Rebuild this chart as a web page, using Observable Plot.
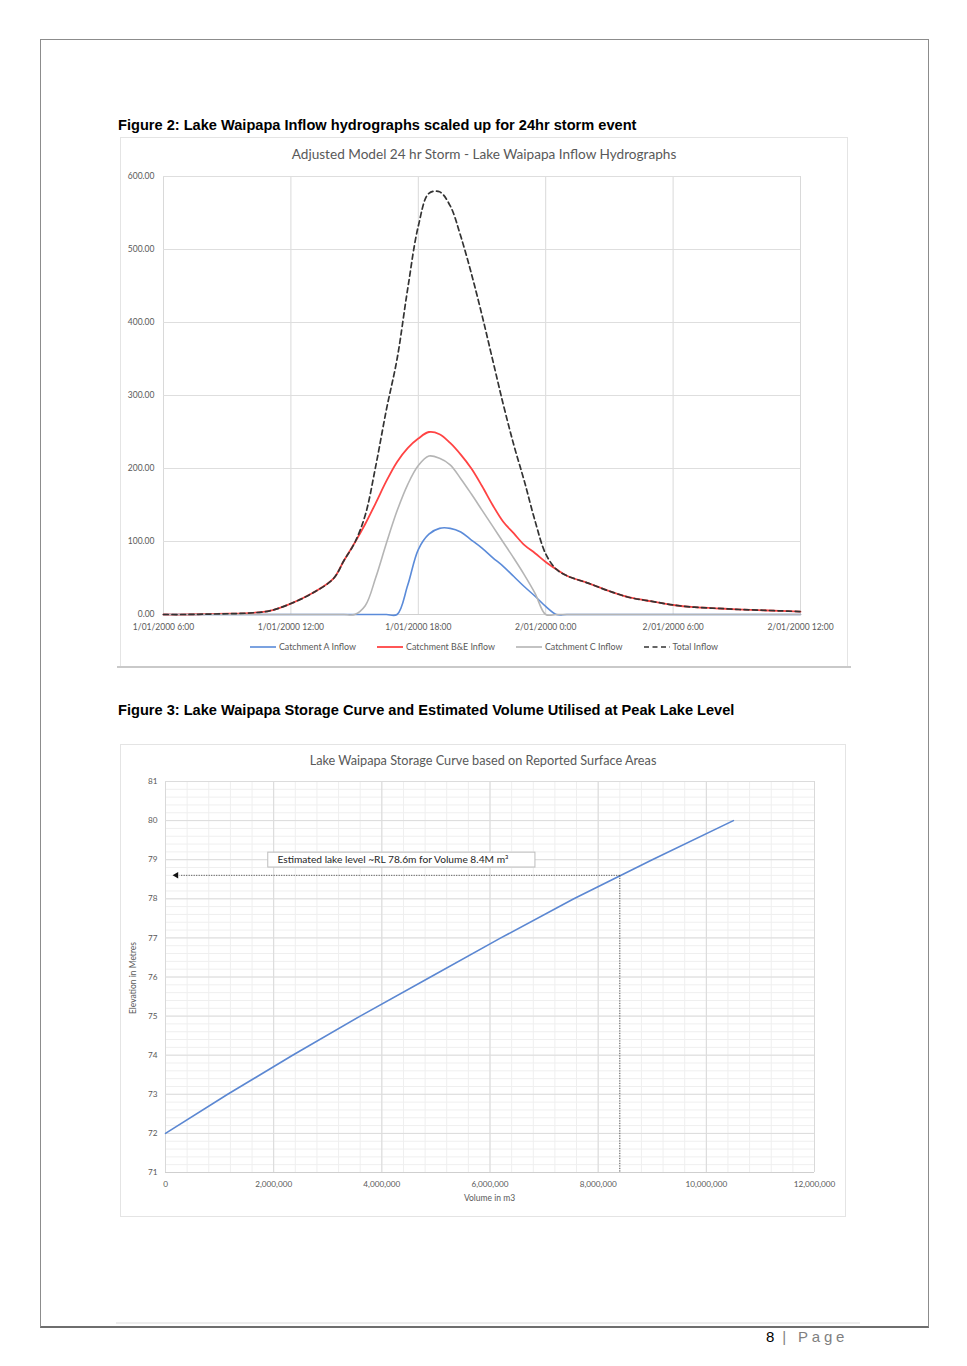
<!DOCTYPE html>
<html>
<head>
<meta charset="utf-8">
<script src="https://cdn.jsdelivr.net/npm/d3@7"></script>
<script src="https://cdn.jsdelivr.net/npm/@observablehq/plot@0.6"></script>
<style>
  html, body { margin: 0; padding: 0; background: #fff; }
  #page { position: relative; width: 967px; height: 1366px; background: #fff; overflow: hidden; }
  .abs { position: absolute; }
  .figtitle { font-family: "Liberation Sans", Arial, sans-serif; font-weight: bold; font-size: 14.6px; color: #000; white-space: nowrap; line-height: 16px; }
  .chartbox { border: 1px solid #e4e4e4; box-sizing: border-box; background: #fff; }
  .ctitle { font-family: Lato, "Open Sans", sans-serif; color: #595959; text-align: center; line-height: 16px; white-space: nowrap; }
  .legend { font-family: Lato, "Open Sans", sans-serif; font-size: 8.9px; color: #595959; display: flex; justify-content: center; align-items: center; gap: 21px; line-height: 10px; }
  .legend span.item { display: inline-flex; align-items: center; gap: 3px; }
  .axlabel { font-family: Lato, "Open Sans", sans-serif; font-size: 8.5px; color: #595959; white-space: nowrap; line-height: 10px; }
</style>
</head>
<body>
<div id="page">
  <div class="abs" style="left:40px;top:39px;width:889px;height:1289px;border:1px solid #8c8c8c;border-bottom:2px solid #6e6e6e;box-sizing:border-box;"></div>
  <div class="abs" style="left:116px;top:1322px;width:744px;height:2px;background:#ededed;"></div>
  <div class="abs" style="left:766px;top:1328px;font-family:'Liberation Sans',Arial,sans-serif;font-size:15px;line-height:18px;white-space:nowrap;"><span style="color:#000">8</span><span style="color:#7f7f7f;letter-spacing:3.8px"> | Page</span></div>

  <div class="abs figtitle" style="left:118px;top:117px;">Figure 2: Lake Waipapa Inflow hydrographs scaled up for 24hr storm event</div>
  <div class="abs chartbox" style="left:120px;top:137px;width:728px;height:530px;"></div>
  <div class="abs" style="left:117px;top:666px;width:734px;height:2px;background:#c9c9c9;"></div>
  <div class="abs ctitle" style="left:120px;top:146px;width:728px;font-size:13.6px;">Adjusted Model 24 hr Storm - Lake Waipapa Inflow Hydrographs</div>
  <div class="abs" id="chart1" style="left:120px;top:165px;"></div>
  <div class="abs legend" id="legend1" style="left:120px;top:642px;width:728px;"></div>

  <div class="abs figtitle" style="left:118px;top:702px;">Figure 3: Lake Waipapa Storage Curve and Estimated Volume Utilised at Peak Lake Level</div>
  <div class="abs chartbox" style="left:120px;top:744px;width:726px;height:473px;"></div>
  <div class="abs ctitle" style="left:120px;top:752px;width:726px;font-size:12.7px;">Lake Waipapa Storage Curve based on Reported Surface Areas</div>
  <div class="abs" id="chart2" style="left:120px;top:770px;"></div>
  <div class="abs axlabel" style="left:165px;top:1193px;width:649px;text-align:center;">Volume in m3</div>
  <div class="abs axlabel" style="left:133px;top:978px;width:0;height:0;"><div style="position:absolute;transform:translate(-50%,-50%) rotate(-90deg);white-space:nowrap;">Elevation in Metres</div></div>
</div>
<script>
// ---------- Figure 2 data (hours after 1/01/2000 6:00) ----------
const startTime = Date.UTC(2000, 0, 1, 6);
const hours = [0,1,2,3,4,5,6,7,8,8.5,9,9.5,10,10.5,11,11.5,12,12.5,13,13.5,14,14.5,15,15.5,16,16.5,17,17.5,18,18.5,19,20,21,22,23,24,25,26,27,28,29,30];
const inflowA   = [0,0,0,0,0,0,0,0,0,0,0,0,0,0,0,40,89,110,118,118,113,102,91,78,66,52,38,25,11,0,0,0,0,0,0,0,0,0,0,0,0,0];
const inflowBE  = [0,0,0.5,1,2,5,15,29,49,74,98,124,153,183,209,228,241,250,247,235,219,200,176,150,127,111,95,84,72,62,53,43,32,23,18,13,10,8.5,7,6,5,4];
const inflowC   = [0,0,0,0,0,0,0,0,0,0,0,12,51,98,142,178,204,217,214,205,186,165,143,121,99,77,54,29,0,0,0,0,0,0,0,0,0,0,0,0,0,0];
const inflowTot = [0,0,0.5,1,2,5,15,29,49,74,98,136,204,281,350,446,532,577,579,560,518,467,410,349,288,232,182,128,83,62,53,43,32,23,18,13,10,8.5,7,6,5,4];
const seriesNames = ["Catchment A Inflow", "Catchment B&E Inflow", "Catchment C Inflow", "Total Inflow"];
const yTicks1 = [0,100,200,300,400,500,600];

// ---------- Figure 3 data ----------
const volumes = [0, 1150000, 2350000, 3600000, 4900000, 6200000, 7550000, 9000000, 10500000];
const elevations = [72, 73, 74, 75, 76, 77, 78, 79, 80];
const xTicks2 = [0, 2000000, 4000000, 6000000, 8000000, 10000000, 12000000];
const yTicks2 = [71,72,73,74,75,76,77,78,79,80,81];
const peakVolume = [8400000];
const peakLevel = [78.6];
const arrowEndVolume = [200000];
const noteText = ["Estimated lake level ~RL 78.6m for Volume 8.4M m\u00B3"];
const noteBox = [{x1: 1900000, x2: 6840000, y1: 78.8, y2: 79.18}];

// ---------- Figure 2 ----------
const toDate = h => new Date(startTime + h * 3600e3);
const pad = n => String(n).padStart(2, "0");
const fmtDate = d => `${d.getUTCDate()}/${pad(d.getUTCMonth() + 1)}/${d.getUTCFullYear()} ${d.getUTCHours()}:${pad(d.getUTCMinutes())}`;
const styles = [
  {stroke: "#5b8bd9", dash: null, width: 1.6},
  {stroke: "#ff4343", dash: null, width: 1.8},
  {stroke: "#b5b5b5", dash: null, width: 1.6},
  {stroke: "#333333", dash: "5,3.5", width: 1.7}
];
const allValues = [inflowA, inflowBE, inflowC, inflowTot];
const lineData = allValues.map(vals => hours.map((h, i) => ({t: toDate(h), v: vals[i]})));
const sixHourTicks = d3.utcHour.every(6).range(toDate(0), toDate(30.01));

const chart1 = Plot.plot({
  width: 728, height: 475,
  marginLeft: 43, marginRight: 48, marginTop: 11, marginBottom: 26,
  style: {fontFamily: "Lato, 'Open Sans', sans-serif", fontSize: "8.5px", color: "#595959", background: "transparent"},
  x: {type: "utc", domain: [toDate(0), toDate(30)], label: null},
  y: {domain: [0, 600], label: null},
  marks: [
    Plot.gridX(sixHourTicks, {stroke: "#d9d9d9", strokeOpacity: 1}),
    Plot.gridY(yTicks1, {stroke: "#dedede", strokeOpacity: 1}),
    Plot.ruleY([0], {stroke: "#cfcfcf"}),
    Plot.axisX(sixHourTicks, {tickSize: 0, tickPadding: 9, tickFormat: fmtDate, fill: "#595959"}),
    Plot.axisY(yTicks1, {tickSize: 0, tickPadding: 9, tickFormat: d => d.toFixed(2), fill: "#595959"}),
    ...lineData.map((data, i) => Plot.line(data, {
      x: "t", y: "v", stroke: styles[i].stroke, strokeWidth: styles[i].width,
      strokeDasharray: styles[i].dash, curve: "catmull-rom"
    }))
  ]
});
document.getElementById("chart1").appendChild(chart1);

const legend = document.getElementById("legend1");
seriesNames.forEach((name, i) => {
  const item = document.createElement("span");
  item.className = "item";
  const s = styles[i];
  item.innerHTML = `<svg width="26" height="6"><line x1="0" y1="3" x2="26" y2="3" stroke="${s.stroke}" stroke-width="${s.width}" ${s.dash ? `stroke-dasharray="${s.dash}"` : ""}/></svg><span>${name.replace("&", "&amp;")}</span>`;
  legend.appendChild(item);
});

// ---------- Figure 3 ----------
const storage = volumes.map((v, i) => ({v, e: elevations[i]}));
const chart2 = Plot.plot({
  width: 726, height: 440,
  marginLeft: 45, marginRight: 32, marginTop: 11, marginBottom: 38,
  style: {fontFamily: "Lato, 'Open Sans', sans-serif", fontSize: "8.2px", color: "#595959", background: "transparent"},
  x: {domain: [0, 12000000], label: null},
  y: {domain: [71, 81], label: null},
  marks: [
    Plot.gridX(d3.range(0, 12000001, 400000), {stroke: "#efefef", strokeOpacity: 1}),
    Plot.gridY(d3.range(71, 81.001, 0.2), {stroke: "#efefef", strokeOpacity: 1}),
    Plot.gridX(xTicks2, {stroke: "#d9d9d9", strokeOpacity: 1}),
    Plot.gridY(yTicks2, {stroke: "#dcdcdc", strokeOpacity: 1}),
    Plot.ruleY([71], {stroke: "#cfcfcf"}),
    Plot.axisX(xTicks2, {tickSize: 0, tickPadding: 9, tickFormat: d3.format(","), fill: "#595959"}),
    Plot.axisY(yTicks2, {tickSize: 0, tickPadding: 8, tickFormat: d => String(d), fill: "#595959"}),
    Plot.line(storage, {x: "v", y: "e", stroke: "#5b87d2", strokeWidth: 1.6}),
    Plot.link(peakVolume, {x1: d => d, x2: (d, i) => arrowEndVolume[i] + 60000, y1: (d, i) => peakLevel[i], y2: (d, i) => peakLevel[i], stroke: "#444", strokeWidth: 0.9, strokeDasharray: "1.2,1.3"}),
    Plot.link(peakVolume, {x1: d => d, x2: d => d, y1: (d, i) => peakLevel[i], y2: 71, stroke: "#444", strokeWidth: 0.9, strokeDasharray: "1.2,1.3"}),
    Plot.dot(arrowEndVolume, {x: d => d, y: (d, i) => peakLevel[i], symbol: "triangle", rotate: -90, r: 2.4, fill: "#111", stroke: "none"}),
    Plot.rect(noteBox, {x1: "x1", x2: "x2", y1: "y1", y2: "y2", fill: "white", stroke: "#bdbdbd", strokeWidth: 1}),
    Plot.text(noteText, {x: d => noteBox[0].x1 + 170000, y: (noteBox[0].y1 + noteBox[0].y2) / 2, text: d => d, textAnchor: "start", fontSize: 10.2, fill: "#262626", fontFamily: "Lato, 'Open Sans', sans-serif"})
  ]
});
document.getElementById("chart2").appendChild(chart2);
</script>
</body>
</html>
